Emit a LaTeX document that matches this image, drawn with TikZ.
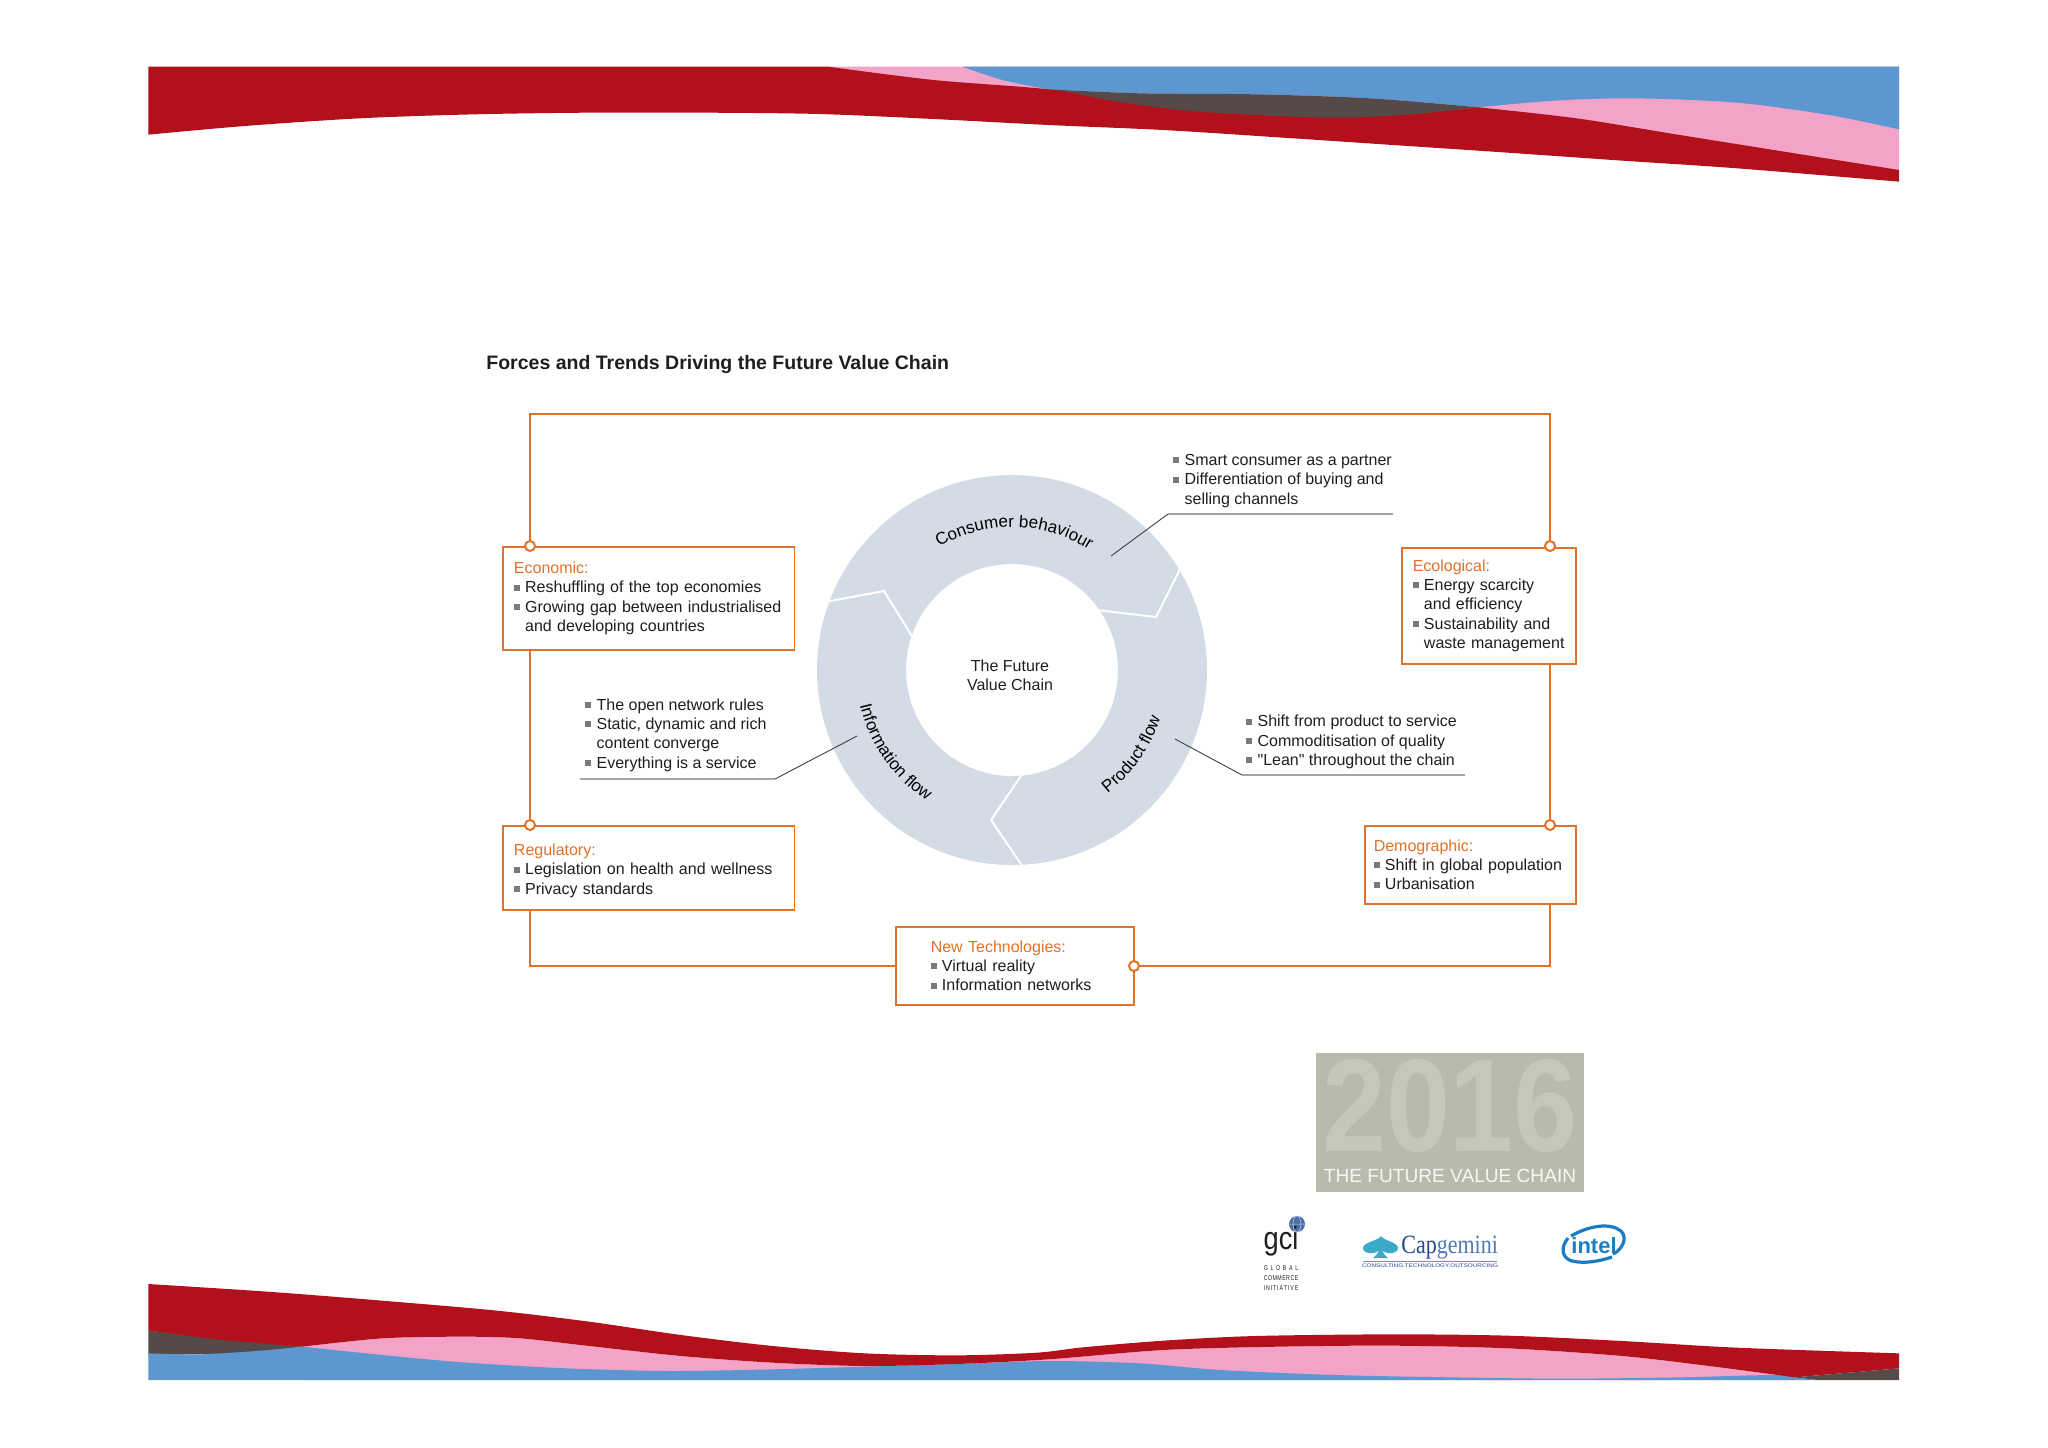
\documentclass[tikz,border=0pt]{standalone}
\usepackage{fontspec}
\setmainfont{Liberation Sans}
\newfontfamily\capfont{Liberation Serif}
\usetikzlibrary{decorations.text}

\definecolor{bandred}{HTML}{B2101A}
\definecolor{bandpink}{HTML}{F2A3C7}
\definecolor{bandblue}{HTML}{5C97D1}
\definecolor{banddark}{HTML}{564A48}
\definecolor{frameorange}{HTML}{E0722A}
\definecolor{ringblue}{HTML}{D3DCE6}
\definecolor{bulgray}{HTML}{7A7A7A}
\definecolor{leadgray}{HTML}{A6A6A6}
\definecolor{inkblack}{HTML}{1E1E1E}
\definecolor{yearback}{HTML}{B9BAAB}
\definecolor{yearfront}{HTML}{C6C7B9}
\definecolor{capnavy}{HTML}{24478F}
\definecolor{capblue}{HTML}{4F79B5}
\definecolor{capteal}{HTML}{3AAAC8}
\definecolor{intelblue}{HTML}{1B7DC1}
\definecolor{globeblue}{HTML}{4A6FA5}

\newcommand{\bul}{\makebox[5.6pt][l]{\textcolor{bulgray}{\rule[1.1pt]{3pt}{3pt}}}}
\newcommand{\cont}{\hspace*{5.6pt}}
\newcommand{\head}[1]{\textcolor{frameorange}{#1}}

\tikzset{
	body/.style={font=\fontsize{8}{9.7}\selectfont, text=inkblack, align=left, inner sep=0pt},
	box/.style={body, draw=frameorange, line width=0.75pt, fill=white, anchor=north west, inner ysep=0pt},
	dot/.style={circle, draw=frameorange, line width=1pt, fill=white, minimum size=5pt, inner sep=0pt},
	frameline/.style={draw=frameorange, line width=0.75pt},
	leaddiag/.style={draw=black!75, line width=0.45pt},
	leadflat/.style={draw=leadgray, line width=1.1pt},
	arrowline/.style={draw=white, line width=1pt},
	ringtext/.style={decorate, decoration={text along path, text align=center, text={|\fontsize{8.5}{10}\selectfont|#1}}},
}

\begin{document}
\begin{tikzpicture}[x=0.5pt,y=-0.5pt]
	\useasboundingbox (0,0) rectangle (2048,1447);

	% top band
	\begin{scope}[shift={(130,50)},xscale=1.148,yscale=0.3333]
		\fill[bandpink] (608,50) -- (1541,50) -- (1541,365) -- (1175,210) -- (800,140) -- (640,120) -- cycle;
		\fill[bandblue] (725,50) -- (1541,50) -- (1541,238)
			-- plot[smooth] coordinates {(1541,238) (1480,195) (1400,158) (1310,145) (1240,152) (1175,172)}
			-- plot[smooth] coordinates {(1175,172) (1080,145) (980,133) (880,130) (800,118)}
			-- plot[smooth] coordinates {(800,118) (760,90) (725,50)} -- cycle;
		\fill[banddark] plot[smooth] coordinates {(800,118) (880,130) (980,133) (1080,145) (1175,172)} -- (1040,230) -- (860,200) -- cycle;
		\fill[bandred] (16,50) -- (608,50)
			-- plot[smooth] coordinates {(608,50) (700,90) (800,118) (860,155) (930,185) (1040,203) (1110,195) (1175,172)}
			-- plot[smooth] coordinates {(1175,172) (1260,205) (1350,255) (1450,310) (1541,360)}
			-- (1541,395)
			-- plot[smooth] coordinates {(1541,395) (1400,355) (1300,332) (1200,308) (1100,285) (1000,262) (900,240) (800,225) (700,207) (600,192) (500,188) (400,188) (300,193) (200,205) (100,228) (16,254)}
			-- cycle;
	\end{scope}

	% bottom band
	\begin{scope}[shift={(130,1270)},xscale=1.148,yscale=0.3333]
		\fill[banddark] (16,182) -- (150,230) -- (110,250) -- (16,255) -- cycle;
		\fill[bandpink] plot[smooth] coordinates {(150,230) (220,205) (290,200) (340,205) (400,228) (480,258) (560,278) (640,288) (720,282) (800,268) (900,240) (1000,230) (1100,227) (1200,235) (1300,258) (1380,290) (1450,322)} -- (1450,330) -- (150,330) -- cycle;
		\fill[bandblue] (16,330) -- (16,250)
			-- plot[smooth] coordinates {(16,250) (60,253) (110,243) (150,230)}
			-- plot[smooth] coordinates {(150,230) (220,255) (290,277) (380,295) (470,303) (560,298) (640,290) (720,282) (800,273) (880,280) (950,300) (1050,315) (1150,322) (1250,326) (1350,322) (1430,315) (1450,322)}
			-- (1470,330) -- cycle;
		\fill[bandred] (16,42)
			-- plot[smooth] coordinates {(16,42) (120,65) (220,92) (320,122) (400,155) (480,195) (560,228) (640,250) (720,256) (790,248) (830,232) (900,212) (980,198) (1100,193) (1200,197) (1300,213) (1400,233) (1541,250)}
			-- (1541,295) -- (1450,322)
			-- plot[smooth] coordinates {(1450,322) (1380,290) (1300,258) (1200,235) (1100,227) (1000,230) (900,240) (800,268) (720,282) (640,288) (560,278) (480,258) (400,228) (340,205) (290,200) (220,205) (150,230)}
			-- (80,210) -- (16,182) -- cycle;
		\fill[banddark] (1450,322) -- (1541,295) -- (1541,330) -- (1470,330) -- cycle;
	\end{scope}

	% title
	\node[anchor=west, inner sep=0pt, text=inkblack, font=\fontsize{9.75}{12}\selectfont\bfseries] (title) at (486,364) {Forces and Trends Driving the Future Value Chain};

	% ring
	\coordinate (hub) at (1012,670);
	\fill[ringblue, even odd rule] (hub) circle[radius=195] (hub) circle[radius=106];
	\draw[arrowline] (825,602) -- (884,591) -- (915,641);
	\draw[arrowline] (1182,565) -- (1156,617) -- (1097,610);
	\draw[arrowline] (1025,770) -- (991,820) -- (1023,867);
	\node[body, align=center] (centre) at (1010,675) {The Future\\Value Chain};

	\path[ringtext={Consumer behaviour}] (1012,670) ++(-124:143) arc[start angle=-124, end angle=-54, radius=143];
	\path[ringtext={Product flow}] (1012,670) ++(65:156) arc[start angle=65, end angle=5, radius=156];
	\path[ringtext={Information flow}] (1012,670) ++(-185:156) arc[start angle=-185, end angle=-245, radius=156];

	% lists beside the ring
	\node[body, anchor=west] (consumer) at (1173,481) {\bul Smart consumer as a partner\\\bul Differentiation of buying and\\\cont selling channels};
	\node[body, anchor=west] (product) at (1246,742) {\bul Shift from product to service\\\bul Commoditisation of quality\\\bul \textquotedbl Lean\textquotedbl{} throughout the chain};
	\node[body, anchor=west] (info) at (585,735) {\bul The open network rules\\\bul Static, dynamic and rich\\\cont content converge\\\bul Everything is a service};

	% leaders
	\coordinate (consumerin) at (1111,556);
	\coordinate (consumerbend) at (1168,514);
	\coordinate (consumerend) at (1393,514);
	\coordinate (productin) at (1175,739);
	\coordinate (productbend) at (1242,775);
	\coordinate (productend) at (1465,775);
	\coordinate (infoin) at (857,736);
	\coordinate (infobend) at (775,779);
	\coordinate (infoend) at (580,779);
	\draw[leaddiag] (consumerin) -- (consumerbend);
	\draw[leadflat] (consumerbend) -- (consumerend);
	\draw[leaddiag] (productin) -- (productbend);
	\draw[leadflat] (productbend) -- (productend);
	\draw[leaddiag] (infoin) -- (infobend);
	\draw[leadflat] (infobend) -- (infoend);

	% forces
	\node[box, inner xsep=5.6pt, text width=134.6pt, minimum height=51.5pt] (econ) at (502,546)
		{\head{Economic:}\\\bul Reshuffling of the top economies\\\bul Growing gap between industrialised\\\cont and developing countries};
	\node[box, inner xsep=5.5pt, text width=76pt, minimum height=58pt] (eco) at (1401,547)
		{\head{Ecological:}\\\bul Energy scarcity\\\cont and efficiency\\\bul Sustainability and\\\cont waste management};
	\node[box, inner xsep=5.6pt, text width=134.6pt, minimum height=42pt] (reg) at (502,825)
		{\rule{0pt}{8.8pt}\head{Regulatory:}\\\bul Legislation on health and wellness\\\bul Privacy standards};
	\node[box, inner xsep=4.5pt, text width=96.5pt, minimum height=39pt] (demo) at (1364,825)
		{\head{Demographic:}\\\bul Shift in global population\\\bul Urbanisation};
	\node[box, inner xsep=17.5pt, text width=84pt, minimum height=39pt] (tech) at (895,926)
		{\head{New Technologies:}\\\bul Virtual reality\\\bul Information networks};

	% frame
	\coordinate (topleft) at (530,414);
	\coordinate (topright) at (1550,414);
	\coordinate (lowleft) at (530,966);
	\coordinate (lowright) at (1550,966);
	\node[dot] (econdot) at (530,546) {};
	\node[dot] (ecodot) at (1550,546) {};
	\node[dot] (regdot) at (530,825) {};
	\node[dot] (demodot) at (1550,825) {};
	\node[dot] (techdot) at (1134,966) {};
	\draw[frameline] (econdot) -- (topleft) -- (topright) -- (ecodot);
	\draw[frameline] (econdot |- econ.south) -- (regdot);
	\draw[frameline] (ecodot |- eco.south) -- (demodot);
	\draw[frameline] (regdot |- reg.south) -- (lowleft) -- (tech.west |- lowleft);
	\draw[frameline] (demodot |- demo.south) -- (lowright) -- (techdot);

	% report tile
	\fill[yearback] (1316,1053) rectangle (1584,1192);
	\node[inner sep=0pt, text=yearfront, font=\fontsize{66}{66}\selectfont\bfseries] (year) at (1450,1106) {\scalebox{0.87}[1]{2016}};
	\node[inner sep=0pt, text=white!88!yearback, font=\fontsize{9.55}{11}\selectfont] (tile) at (1450,1176) {THE FUTURE VALUE CHAIN};

	% gci mark
	\fill[globeblue] (1297,1224) circle[radius=8];
	\draw[white!70!globeblue, line width=0.25pt] (1297,1224) ellipse[x radius=4, y radius=8] (1289,1224) -- (1305,1224);
	\node[inner sep=0pt, text=inkblack, font=\fontsize{16}{16}\selectfont] (gci) at (1281,1241) {\scalebox{0.85}[1]{gci}};
	\node[inner sep=0pt, text=inkblack, font=\fontsize{3.5}{3.5}\selectfont] (global) at (1281,1268) {\scalebox{0.75}[1]{\makebox[23pt][s]{G\hfil L\hfil O\hfil B\hfil A\hfil L}}};
	\node[inner sep=0pt, text=inkblack, font=\fontsize{3.5}{3.5}\selectfont] (commerce) at (1281,1278) {\scalebox{0.75}[1]{\makebox[23pt][s]{C\hfil O\hfil M\hfil M\hfil E\hfil R\hfil C\hfil E}}};
	\node[inner sep=0pt, text=inkblack, font=\fontsize{3.5}{3.5}\selectfont] (initiative) at (1281,1288) {\scalebox{0.75}[1]{\makebox[23pt][s]{I\hfil N\hfil I\hfil T\hfil I\hfil A\hfil T\hfil I\hfil V\hfil E}}};

	% capgemini mark
	\fill[capteal] (1381,1236) .. controls (1384,1241) and (1398,1242) .. (1398,1248) .. controls (1398,1254) and (1386,1255) .. (1382,1250) .. controls (1383,1253) and (1385,1256) .. (1388,1258) -- (1373,1258) .. controls (1376,1256) and (1378,1253) .. (1379,1250) .. controls (1375,1255) and (1363,1254) .. (1363,1248) .. controls (1363,1242) and (1378,1241) .. (1381,1236) -- cycle;
	\node[anchor=base west, inner sep=0pt, font=\fontsize{11}{11}\selectfont\capfont] (cap) at (1401,1253) {\scalebox{1}[1.2]{\textcolor{capnavy}{Cap}\textcolor{capblue}{gemini}}};
	\draw[capteal, line width=0.5pt] (1363,1261) -- (1497,1261);
	\node[inner sep=0pt, text=capnavy, font=\fontsize{2.6}{3}\selectfont] (captag) at (1430,1266) {\scalebox{1.22}[1]{CONSULTING.TECHNOLOGY.OUTSOURCING}};

	% intel mark
	\draw[intelblue, line width=1.6pt] (1571,1236) .. controls (1588,1226) and (1610,1222) .. (1621,1231) .. controls (1628,1238) and (1622,1250) .. (1613,1254);
	\draw[intelblue, line width=1.6pt] (1568,1238) .. controls (1560,1248) and (1562,1258) .. (1572,1261) .. controls (1585,1264) and (1600,1261) .. (1612,1257);
	\node[anchor=base west, inner sep=0pt, text=intelblue, font=\fontsize{11}{11}\selectfont\bfseries] (intel) at (1571,1253) {intel};
\end{tikzpicture}
\end{document}
